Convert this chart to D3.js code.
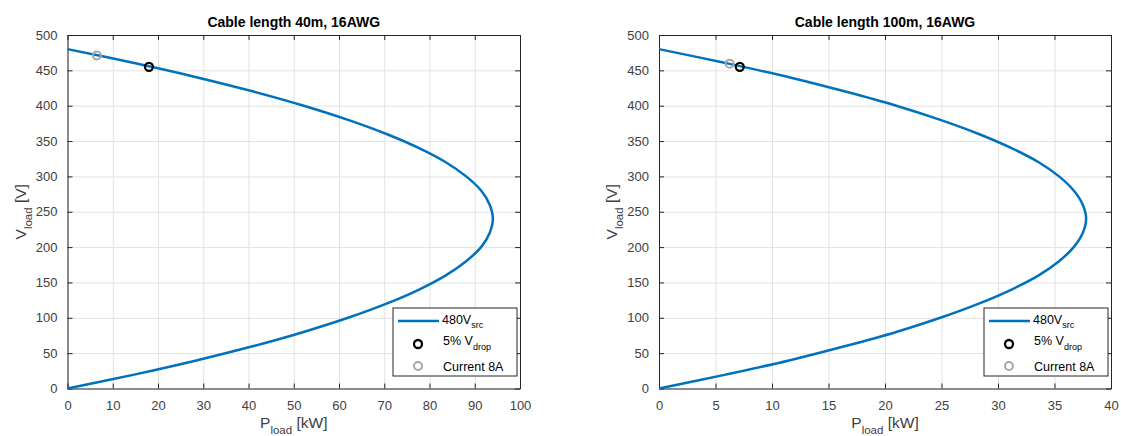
<!DOCTYPE html>
<html>
<head>
<meta charset="utf-8">
<title>Cable length</title>
<style>
    body {
        margin: 0;
        padding: 0;
        background: #ffffff;
        font-family: "Liberation Sans", Arial, sans-serif;
    }
    .tick text {
        fill: #404040;
        font-size: 13px;
        font-family: "Liberation Sans", Arial, sans-serif;
    }
    .domain, .tick line {
        stroke: #262626;
    }
    .grid line {
        stroke: #e3e3e3;
        stroke-width: 1;
    }
    .grid .domain {
        display: none;
    }
</style>
</head>
<body>
<svg width="1121" height="436"></svg>
<script src="https://d3js.org/d3.v7.min.js"></script>
<script>
// valori (V_load in V, P_load in kW)
var voltages = [0, 20, 40, 60, 80, 100, 120, 140, 160, 180, 200, 220, 240,
    260, 280, 300, 320, 340, 360, 380, 400, 420, 440, 460, 480];
var power40m = [0, 15.0, 28.7, 41.1, 52.2, 62.0, 70.5, 77.7, 83.6, 88.1, 91.4, 93.3, 94.0,
    93.3, 91.4, 88.1, 83.6, 77.7, 70.5, 62.0, 52.2, 41.1, 28.7, 15.0, 0];
var power100m = [0, 6.0, 11.6, 16.5, 21.0, 24.9, 28.3, 31.2, 33.6, 35.4, 36.7, 37.5, 37.8,
    37.5, 36.7, 35.4, 33.6, 31.2, 28.3, 24.9, 21.0, 16.5, 11.6, 6.0, 0];

// punti [P, V]
var drop40m = [18.0, 455];
var current40m = [6.5, 471];
var drop100m = [7.15, 455];
var current100m = [6.25, 459.5];

var titles = ["Cable length 40m, 16AWG", "Cable length 100m, 16AWG"];
var xTicks40m = [0, 10, 20, 30, 40, 50, 60, 70, 80, 90, 100];
var xTicks100m = [0, 5, 10, 15, 20, 25, 30, 35, 40];
var yTicks = [0, 50, 100, 150, 200, 250, 300, 350, 400, 450, 500];

var blue = "#0072bd";
var svg = d3.select("svg");

var panels = [
    { left: 67.5, right: 520, title: titles[0], power: power40m, xMax: 100, xTicks: xTicks40m, drop: drop40m, current: current40m },
    { left: 659, right: 1111, title: titles[1], power: power100m, xMax: 40, xTicks: xTicks100m, drop: drop100m, current: current100m }
];
var topY = 35, bottomY = 388.5;

panels.forEach(function(p) {
    var x = d3.scaleLinear().domain([0, p.xMax]).range([p.left, p.right]);
    var y = d3.scaleLinear().domain([0, 500]).range([bottomY, topY]);
    var g = svg.append("g");

    // griglia
    g.append("g").attr("class", "grid")
        .attr("transform", "translate(0," + bottomY + ")")
        .call(d3.axisBottom(x).tickValues(p.xTicks).tickSize(-(bottomY - topY)).tickFormat(""));
    g.append("g").attr("class", "grid")
        .attr("transform", "translate(" + p.left + ",0)")
        .call(d3.axisLeft(y).tickValues(yTicks).tickSize(-(p.right - p.left)).tickFormat(""));

    // assi (tick interni, box chiuso)
    g.append("g").attr("transform", "translate(0," + bottomY + ")")
        .call(d3.axisBottom(x).tickValues(p.xTicks).tickSizeInner(-5).tickSizeOuter(0).tickPadding(12));
    g.append("g").attr("transform", "translate(" + p.left + ",0)")
        .call(d3.axisLeft(y).tickValues(yTicks).tickSizeInner(-5).tickSizeOuter(0).tickPadding(10));
    g.append("g").attr("transform", "translate(0," + topY + ")")
        .call(d3.axisTop(x).tickValues(p.xTicks).tickSizeInner(-5).tickSizeOuter(0).tickFormat(""));
    g.append("g").attr("transform", "translate(" + p.right + ",0)")
        .call(d3.axisRight(y).tickValues(yTicks).tickSizeInner(-5).tickSizeOuter(0).tickFormat(""));

    // curva
    var line = d3.line()
        .x(function(d) { return x(d[0]); })
        .y(function(d) { return y(d[1]); })
        .curve(d3.curveCatmullRom);
    g.append("path")
        .datum(p.power.map(function(v, i) { return [v, voltages[i]]; }))
        .attr("d", line)
        .attr("fill", "none")
        .attr("stroke", blue)
        .attr("stroke-width", 2.5);

    // marker
    g.append("circle")
        .attr("cx", x(p.current[0])).attr("cy", y(p.current[1])).attr("r", 4)
        .attr("fill", "none").attr("stroke", "#a6a6a6").attr("stroke-width", 2);
    g.append("circle")
        .attr("cx", x(p.drop[0])).attr("cy", y(p.drop[1])).attr("r", 4)
        .attr("fill", "none").attr("stroke", "#000").attr("stroke-width", 2.3);

    // titolo
    var cx = (p.left + p.right) / 2;
    g.append("text")
        .attr("x", cx).attr("y", 27)
        .attr("text-anchor", "middle")
        .style("font-weight", "bold").style("font-size", "14px").style("fill", "#000")
        .text(p.title);

    // etichette assi
    var xl = g.append("text")
        .attr("x", cx).attr("y", 428)
        .attr("text-anchor", "middle")
        .style("font-size", "15.5px").style("fill", "#404040");
    xl.append("tspan").text("P");
    xl.append("tspan").attr("dy", 6).style("font-size", "11.5px").text("load");
    xl.append("tspan").attr("dy", -6).text(" [kW]");

    var yl = g.append("text")
        .attr("transform", "translate(" + (p.left - 42) + "," + ((topY + bottomY) / 2) + ") rotate(-90)")
        .attr("text-anchor", "middle")
        .style("font-size", "15.5px").style("fill", "#404040");
    yl.append("tspan").text("V");
    yl.append("tspan").attr("dy", 6).style("font-size", "11.5px").text("load");
    yl.append("tspan").attr("dy", -6).text(" [V]");

    // legenda
    var lx = p.right - 127, ly = bottomY - 80.5;
    var leg = g.append("g").attr("transform", "translate(" + lx + "," + ly + ")");
    leg.append("rect").attr("width", 124).attr("height", 68)
        .attr("fill", "#fff").attr("stroke", "#262626").attr("stroke-width", 1);
    leg.append("line").attr("x1", 5).attr("x2", 46).attr("y1", 13).attr("y2", 13)
        .attr("stroke", blue).attr("stroke-width", 2.5);
    leg.append("circle").attr("cx", 25).attr("cy", 36).attr("r", 4)
        .attr("fill", "none").attr("stroke", "#000").attr("stroke-width", 2.3);
    leg.append("circle").attr("cx", 25).attr("cy", 58).attr("r", 4)
        .attr("fill", "none").attr("stroke", "#a6a6a6").attr("stroke-width", 2);

    var t1 = leg.append("text").attr("x", 49).attr("y", 16).style("font-size", "12.5px").style("fill", "#000");
    t1.append("tspan").text("480V");
    t1.append("tspan").attr("dy", 4).style("font-size", "9px").text("src");
    var t2 = leg.append("text").attr("x", 50).attr("y", 37).style("font-size", "12.5px").style("fill", "#000");
    t2.append("tspan").text("5% V");
    t2.append("tspan").attr("dy", 5).style("font-size", "9px").text("drop");
    leg.append("text").attr("x", 50).attr("y", 63).style("font-size", "12.5px").style("fill", "#000")
        .text("Current 8A");
});
</script>
</body>
</html>
